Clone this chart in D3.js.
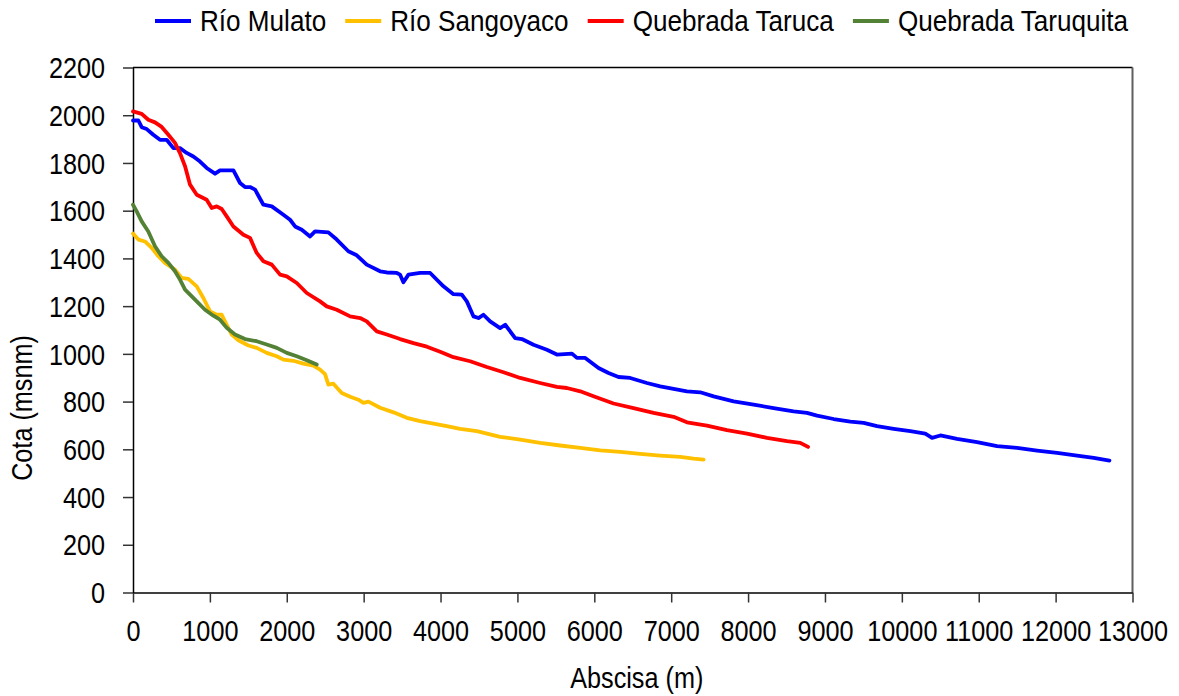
<!DOCTYPE html>
<html>
<head>
<meta charset="utf-8">
<script src="https://cdn.jsdelivr.net/npm/d3@7"></script>
<style>
  html, body { margin: 0; padding: 0; background: #fff; }
  svg text { font-family: "Liberation Sans", Arial, sans-serif; fill: #000; }
</style>
</head>
<body>
<svg id="chart" width="1179" height="696"></svg>
<script>
// ---- Data ----
const seriesNames = ["Río Mulato", "Río Sangoyaco", "Quebrada Taruca", "Quebrada Taruquita"];
const seriesColors = ["#0000FF", "#FFC000", "#FF0000", "#538135"];

const rioMulato = [[0,1978],[70,1978],[113,1950],[178,1942],[264,1918],[351,1897],[438,1897],[525,1862],[611,1862],[698,1842],[785,1827],[872,1806],[958,1779],[1067,1755],[1132,1769],[1306,1769],[1392,1716],[1457,1699],[1522,1699],[1588,1688],[1696,1625],[1805,1618],[1956,1583],[2043,1562],[2108,1534],[2195,1520],[2303,1492],[2368,1513],[2541,1509],[2650,1479],[2801,1430],[2910,1413],[3040,1374],[3214,1346],[3301,1341],[3431,1339],[3474,1332],[3517,1300],[3583,1332],[3735,1339],[3865,1339],[4038,1283],[4168,1250],[4277,1248],[4342,1220],[4429,1157],[4493,1150],[4558,1164],[4645,1136],[4775,1108],[4841,1122],[4971,1066],[5058,1062],[5209,1038],[5383,1017],[5513,997],[5709,1001],[5774,983],[5882,983],[6055,941],[6185,920],[6315,903],[6467,899],[6684,878],[6857,864],[7031,853],[7205,843],[7378,839],[7552,822],[7812,801],[8072,787],[8332,773],[8592,759],[8766,753],[8897,741],[9113,727],[9330,716],[9503,711],[9677,697],[9894,686],[10110,676],[10305,666],[10393,648],[10501,658],[10718,644],[10978,630],[11238,613],[11499,606],[11759,595],[12019,585],[12279,574],[12496,564],[12700,553]];

const rioSangoyaco = [[0,1504],[70,1479],[156,1471],[243,1444],[330,1409],[416,1381],[546,1353],[633,1318],[720,1314],[829,1283],[915,1234],[1002,1178],[1089,1164],[1154,1164],[1219,1122],[1284,1081],[1371,1057],[1501,1035],[1609,1025],[1739,1004],[1870,990],[1956,976],[2086,971],[2216,959],[2346,951],[2433,934],[2498,915],[2541,871],[2606,875],[2715,836],[2824,820],[2932,808],[2997,795],[3062,800],[3214,774],[3388,755],[3561,732],[3735,718],[3908,708],[4081,697],[4255,686],[4472,676],[4775,652],[5036,641],[5296,627],[5556,616],[5817,606],[6077,596],[6337,589],[6597,581],[6857,574],[7118,568],[7291,561],[7421,557]];

const quebradaTaruca = [[0,2016],[113,2006],[199,1981],[286,1970],[373,1951],[460,1918],[546,1884],[611,1841],[677,1786],[742,1709],[829,1667],[958,1646],[1024,1611],[1089,1618],[1154,1607],[1219,1576],[1306,1534],[1436,1499],[1522,1486],[1609,1423],[1696,1388],[1805,1374],[1913,1332],[2000,1325],[2130,1297],[2260,1255],[2433,1220],[2520,1199],[2650,1185],[2824,1157],[2954,1150],[3040,1136],[3171,1094],[3301,1081],[3474,1062],[3648,1045],[3822,1030],[3995,1009],[4168,986],[4385,969],[4602,945],[4819,923],[5036,899],[5296,878],[5513,862],[5643,857],[5817,843],[5990,822],[6250,792],[6510,773],[6771,753],[7031,736],[7205,713],[7465,699],[7725,680],[7986,666],[8246,648],[8506,634],[8679,627],[8780,610]];

const quebradaTaruquita = [[0,1625],[48,1597],[113,1555],[199,1513],[286,1451],[373,1409],[460,1381],[546,1346],[611,1311],[677,1269],[742,1248],[829,1220],[937,1185],[1045,1160],[1132,1143],[1219,1109],[1327,1081],[1457,1062],[1609,1053],[1739,1039],[1870,1025],[2000,1004],[2130,990],[2260,973],[2390,955]];

const xTicks = [0,1000,2000,3000,4000,5000,6000,7000,8000,9000,10000,11000,12000,13000];
const yTicks = [0,200,400,600,800,1000,1200,1400,1600,1800,2000,2200];
const xTitle = "Abscisa (m)";
const yTitle = "Cota (msnm)";

// ---- Layout ----
const svg = d3.select("#chart");
const plot = { left: 133, right: 1132.5, top: 67.5, bottom: 592.5 };
const fontSize = 29;
const sx = 0.87; // horizontal condensing of the text (narrow face)
const sxLegend = 0.9;

const x = d3.scaleLinear().domain([0, 13000]).range([plot.left, plot.right]);
const y = d3.scaleLinear().domain([0, 2200]).range([plot.bottom, plot.top]);

function condense(sel, extra, k) {
  const s = k || sx;
  sel.each(function () {
    const t = d3.select(this);
    const tx = +t.attr("x") || 0, ty = +t.attr("y") || 0;
    t.attr("x", null).attr("y", null)
      .attr("transform", `translate(${tx},${ty})${extra || ""} scale(${s},1)`);
  });
}

// plot frame (top black, right gray)
svg.append("line").attr("x1", plot.left).attr("x2", plot.right).attr("y1", plot.top).attr("y2", plot.top)
  .attr("stroke", "#000").attr("stroke-width", 1.5);
svg.append("line").attr("x1", plot.right).attr("x2", plot.right).attr("y1", plot.top).attr("y2", plot.bottom)
  .attr("stroke", "#5f5f5f").attr("stroke-width", 2);

// axes
const xAxis = svg.append("g").attr("transform", `translate(0,${plot.bottom})`)
  .call(d3.axisBottom(x).tickValues(xTicks).tickFormat(d3.format("d")).tickSizeInner(10).tickSizeOuter(0).tickPadding(18));
const yAxis = svg.append("g").attr("transform", `translate(${plot.left},0)`)
  .call(d3.axisLeft(y).tickValues(yTicks).tickFormat(d3.format("d")).tickSizeInner(10).tickSizeOuter(0).tickPadding(18));

[xAxis, yAxis].forEach(a => {
  a.attr("font-family", null).attr("font-size", null);
  a.select(".domain").attr("stroke", "#000").attr("stroke-width", 1.5);
  a.selectAll(".tick line").attr("stroke", "#333").attr("stroke-width", 1.5);
  a.selectAll(".tick text").attr("font-size", fontSize).attr("fill", "#000");
});
xAxis.selectAll(".tick text").attr("dy", "0.71em");
yAxis.selectAll(".tick text").attr("dy", "0.35em");
condense(xAxis.selectAll(".tick text"));
condense(yAxis.selectAll(".tick text"));

// axis titles
svg.append("text").attr("x", (plot.left + plot.right) / 2 + 4).attr("y", 688)
  .attr("text-anchor", "middle").attr("font-size", fontSize).text(xTitle)
  .call(s => condense(s));
svg.append("text").attr("x", 32).attr("y", 408)
  .attr("text-anchor", "middle").attr("font-size", fontSize).text(yTitle)
  .call(s => condense(s, " rotate(-90)"));

// series lines
const allSeries = [rioMulato, rioSangoyaco, quebradaTaruca, quebradaTaruquita];
const line = d3.line().x(d => x(d[0])).y(d => y(d[1]));
allSeries.forEach((data, i) => {
  svg.append("path").datum(data)
    .attr("fill", "none").attr("stroke", seriesColors[i]).attr("stroke-width", 3.8)
    .attr("stroke-linejoin", "round").attr("stroke-linecap", "round")
    .attr("d", line);
});

// legend
const legend = svg.append("g");
let lx = 155;
const ly = 21;
seriesNames.forEach((name, i) => {
  legend.append("line").attr("x1", lx).attr("x2", lx + 36).attr("y1", ly).attr("y2", ly)
    .attr("stroke", seriesColors[i]).attr("stroke-width", 4);
  const t = legend.append("text").attr("x", lx + 45).attr("y", ly).attr("dy", "0.35em")
    .attr("font-size", fontSize).text(name);
  const w = t.node().getComputedTextLength() * sxLegend;
  condense(t, "", sxLegend);
  lx = lx + 45 + w + 19;
});
</script>
</body>
</html>
